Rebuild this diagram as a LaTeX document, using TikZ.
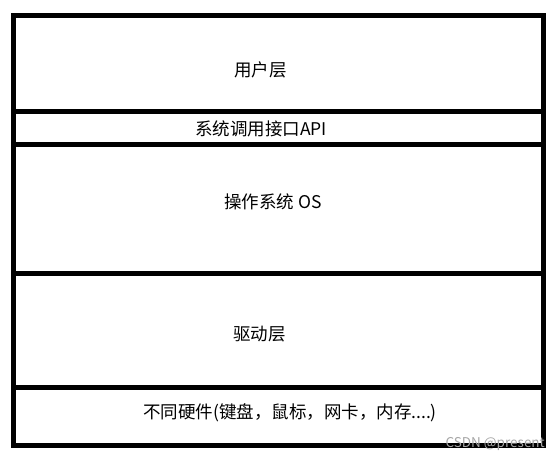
\documentclass[tikz,border=0pt]{standalone}
\usepackage{fontspec}
\setmainfont{Noto Sans CJK SC}
\usepackage{tikz}
\usetikzlibrary{positioning}
\tikzset{
	layer/.style={draw=black, line width=5pt, rectangle, minimum width=530pt, inner sep=0pt},
	caption/.style={font=\fontsize{17.5}{20}\selectfont, inner sep=0pt},
	mark text/.style={font=\fontsize{13.5}{15}\selectfont, text=black!35, inner sep=0pt},
}

\begin{document}
\begin{tikzpicture}[x=1pt,y=-1pt]
    \useasboundingbox (0,0) rectangle (560,463);

    \node[layer, minimum height=96pt] (user) at (278.5,63.5) {};
    \node[layer, minimum height=32.5pt] (api) at (278.5,127.75) {};
    \node[layer, minimum height=129pt] (os) at (278.5,208.5) {};
    \node[layer, minimum height=114pt] (drv) at (278.5,330) {};
    \node[layer, minimum height=58pt] (hw) at (278.5,416) {};

    \node[caption] (tuser) at (260.5,70) {用户层};
    \node[caption] (tapi) at (261,129) {系统调用接口API};
    \node[caption] (tos) at (273,202) {操作系统 OS};
    \node[caption] (tdrv) at (259.5,334) {驱动层};
    \node[caption] (thw) at (290,413) {不同硬件(键盘，鼠标，网卡，内存....)};

    \node[mark text, anchor=east] (wm) at (545,444) {CSDN @present};
\end{tikzpicture}
\end{document}
